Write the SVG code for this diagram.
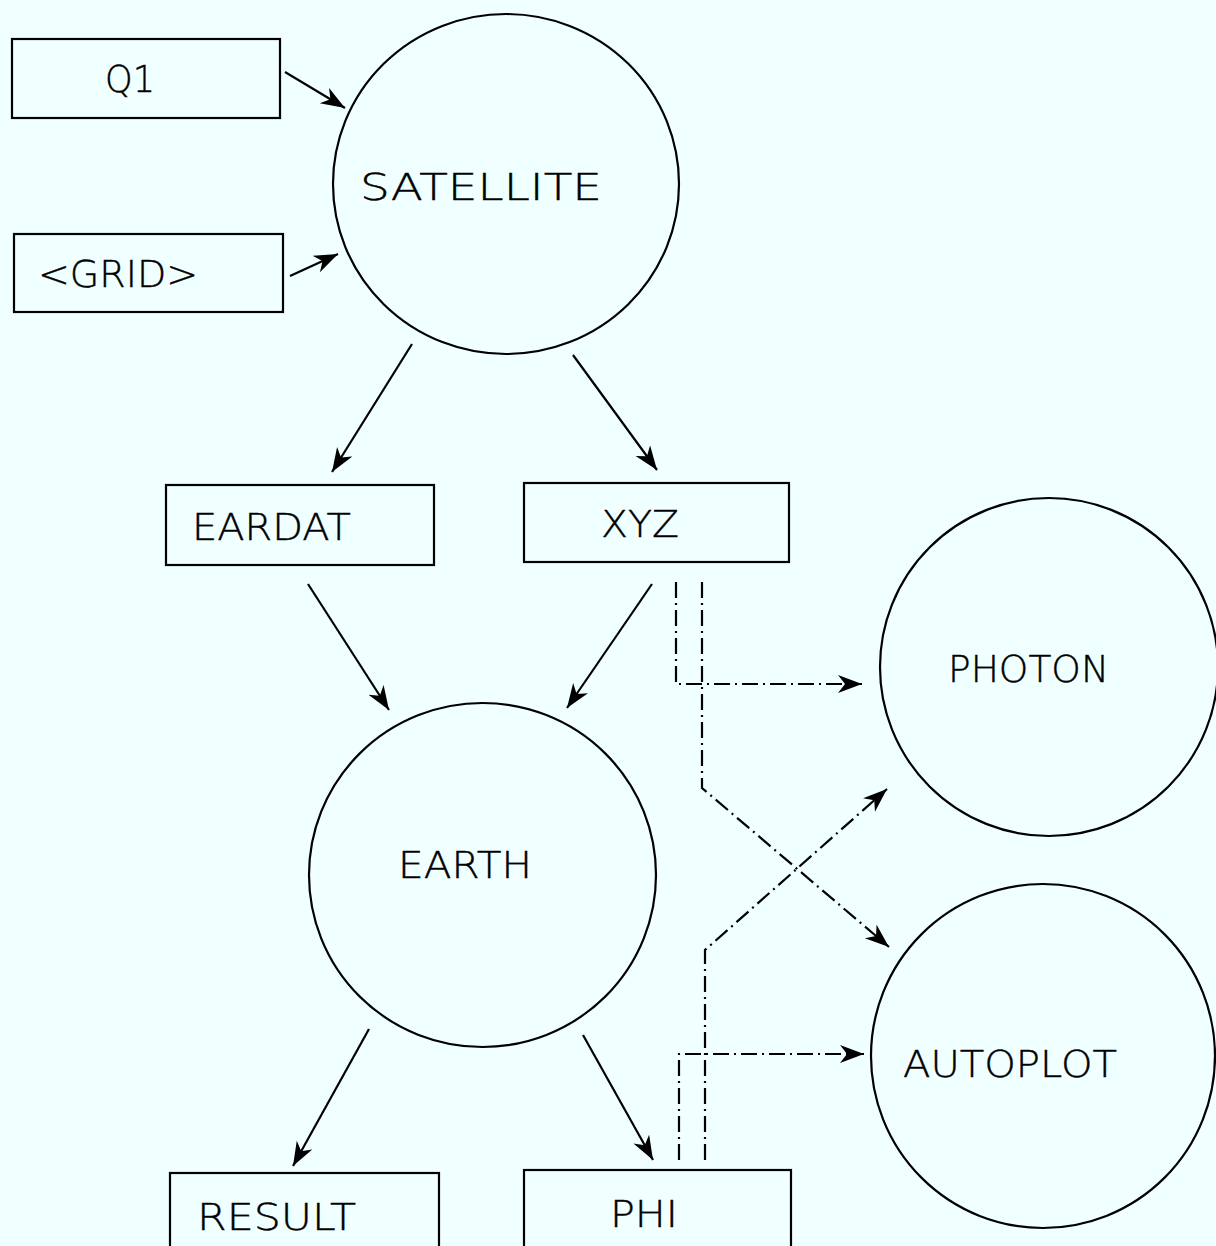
<svg xmlns="http://www.w3.org/2000/svg" width="1216" height="1246" viewBox="0 0 1216 1246">
<style>
.box{fill:none;stroke:#000;stroke-width:2.2}
.circ{fill:none;stroke:#000;stroke-width:2.2}
.lbl{font-family:"DejaVu Sans","Liberation Sans",sans-serif;font-weight:200;font-size:37px;fill:#000;stroke:#000;stroke-width:0.4}
.solid{fill:none;stroke:#000;stroke-width:2.2;marker-end:url(#ah)}
.dd{fill:none;stroke:#000;stroke-width:2.2;stroke-dasharray:16 5 2 5;marker-end:url(#ah2)}
</style>
<defs>
<marker id="ah" markerUnits="userSpaceOnUse" markerWidth="26" markerHeight="20" refX="24" refY="9" orient="auto">
<path d="M0,0 L24,9 L0,18 L7,9 Z" fill="#000"/>
</marker>
<marker id="ah2" markerUnits="userSpaceOnUse" markerWidth="26" markerHeight="20" refX="24" refY="9" orient="auto">
<path d="M0,0 L24,9 L0,18 L7,9 Z" fill="#000"/>
</marker>
</defs>
<rect width="1216" height="1246" fill="#F0FFFF"/>
<g id="connectors">
<line class="solid" x1="285" y1="72" x2="345" y2="108"/>
<line class="solid" x1="290" y1="276" x2="338" y2="254"/>
<line class="solid" x1="412" y1="344" x2="332" y2="472"/>
<line class="solid" x1="573" y1="355" x2="657" y2="470"/>
<line class="solid" x1="308" y1="584" x2="389" y2="710"/>
<line class="solid" x1="652" y1="584" x2="567" y2="708"/>
<line class="solid" x1="369" y1="1029" x2="293" y2="1166"/>
<line class="solid" x1="583" y1="1035" x2="653" y2="1160"/>
<path class="dd" d="M676,582 V684 H862"/>
<path class="dd" d="M702,582 V788 L889,947"/>
<path class="dd" d="M679,1160 V1054 H864"/>
<path class="dd" d="M705,1160 V950 L887,789"/>
</g>
<g id="Q1">
<rect class="box" x="12" y="39" width="268" height="79"/>
<text class="lbl" x="105" y="92" textLength="50" lengthAdjust="spacingAndGlyphs">Q1</text>
</g>
<g id="GRID">
<rect class="box" x="14" y="234" width="269" height="78"/>
<text class="lbl" x="38" y="287" textLength="160" lengthAdjust="spacingAndGlyphs">&lt;GRID&gt;</text>
</g>
<g id="SATELLITE">
<ellipse class="circ" cx="506" cy="184" rx="173" ry="170"/>
<text class="lbl" x="360" y="200" textLength="242" lengthAdjust="spacingAndGlyphs">SATELLITE</text>
</g>
<g id="EARDAT">
<rect class="box" x="166" y="485" width="268" height="80"/>
<text class="lbl" x="192" y="540" textLength="159" lengthAdjust="spacingAndGlyphs">EARDAT</text>
</g>
<g id="XYZ">
<rect class="box" x="524" y="483" width="265" height="79"/>
<text class="lbl" x="601" y="537" textLength="78" lengthAdjust="spacingAndGlyphs">XYZ</text>
</g>
<g id="EARTH">
<ellipse class="circ" cx="482.5" cy="875" rx="173.5" ry="172"/>
<text class="lbl" x="398" y="878" textLength="134" lengthAdjust="spacingAndGlyphs">EARTH</text>
</g>
<g id="PHOTON">
<circle class="circ" cx="1049" cy="667" r="169"/>
<text class="lbl" x="948" y="682" textLength="161" lengthAdjust="spacingAndGlyphs">PHOTON</text>
</g>
<g id="AUTOPLOT">
<circle class="circ" cx="1043" cy="1056" r="172"/>
<text class="lbl" x="903" y="1077" textLength="214" lengthAdjust="spacingAndGlyphs">AUTOPLOT</text>
</g>
<g id="RESULT">
<rect class="box" x="170" y="1173" width="269" height="90"/>
<text class="lbl" x="197" y="1230" textLength="159" lengthAdjust="spacingAndGlyphs">RESULT</text>
</g>
<g id="PHI">
<rect class="box" x="524" y="1170" width="267" height="90"/>
<text class="lbl" x="610" y="1227" textLength="68" lengthAdjust="spacingAndGlyphs">PHI</text>
</g>
</svg>
